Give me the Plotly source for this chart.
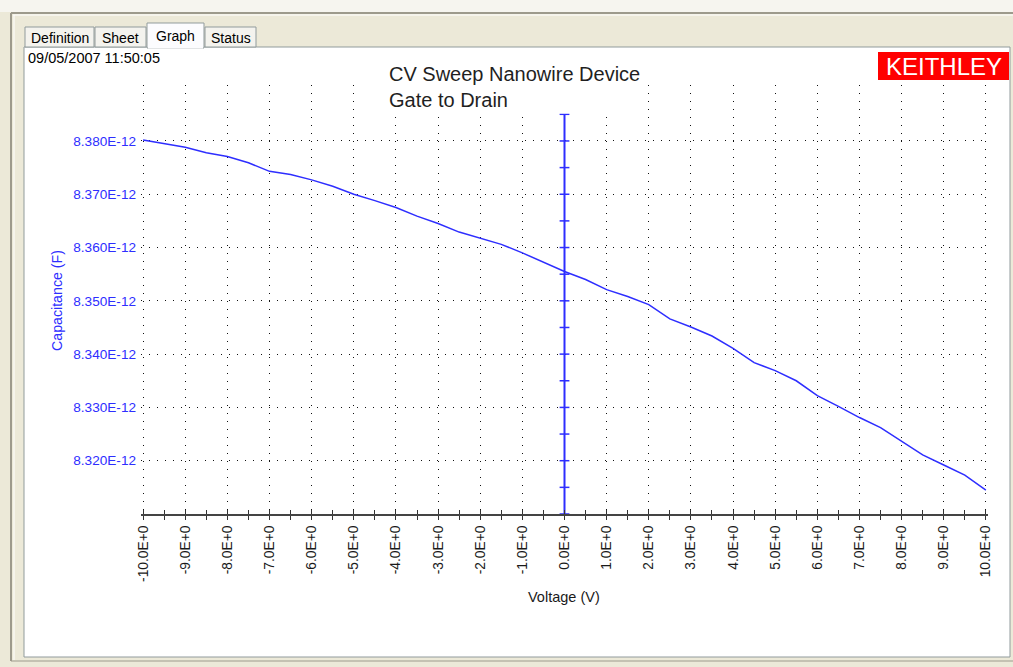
import plotly.graph_objects as go

# ---------------- data ----------------
voltage_V = [-10.0, -9.5, -9.0, -8.5, -8.0, -7.5, -7.0, -6.5, -6.0, -5.5, -5.0,
             -4.5, -4.0, -3.5, -3.0, -2.5, -2.0, -1.5, -1.0, -0.5, 0.0,
             0.5, 1.0, 1.5, 2.0, 2.5, 3.0, 3.5, 4.0, 4.5, 5.0,
             5.5, 6.0, 6.5, 7.0, 7.5, 8.0, 8.5, 9.0, 9.5, 10.0]
capacitance_pF = [8.3802, 8.3795, 8.3788, 8.3778, 8.3771, 8.3759, 8.3743, 8.3737, 8.3727, 8.3715, 8.3700,
                  8.3688, 8.3675, 8.3659, 8.3645, 8.3629, 8.3618, 8.3606, 8.3590, 8.3573, 8.3555,
                  8.3540, 8.3521, 8.3508, 8.3493, 8.3466, 8.3451, 8.3434, 8.3411, 8.3384, 8.3369,
                  8.3350, 8.3322, 8.3302, 8.3281, 8.3262, 8.3236, 8.3211, 8.3192, 8.3173, 8.3145]

x_tick_vals = [-10, -9, -8, -7, -6, -5, -4, -3, -2, -1, 0, 1, 2, 3, 4, 5, 6, 7, 8, 9, 10]
x_tick_text = ["-10.0E+0", "-9.0E+0", "-8.0E+0", "-7.0E+0", "-6.0E+0", "-5.0E+0", "-4.0E+0",
               "-3.0E+0", "-2.0E+0", "-1.0E+0", "0.0E+0", "1.0E+0", "2.0E+0", "3.0E+0",
               "4.0E+0", "5.0E+0", "6.0E+0", "7.0E+0", "8.0E+0", "9.0E+0", "10.0E+0"]
y_tick_vals_pF = [8.320, 8.330, 8.340, 8.350, 8.360, 8.370, 8.380]
y_tick_text = ["8.320E-12", "8.330E-12", "8.340E-12", "8.350E-12",
               "8.360E-12", "8.370E-12", "8.380E-12"]
zero_axis_ticks_pF = [8.310, 8.315, 8.320, 8.325, 8.330, 8.335, 8.340, 8.345,
                      8.350, 8.355, 8.360, 8.365, 8.370, 8.375, 8.380, 8.385]

title_text = "CV Sweep Nanowire Device<br>Gate to Drain"
timestamp = "09/05/2007 11:50:05"
tab_names = ["Definition", "Sheet", "Graph", "Status"]

pF = 1e-12
cap_F = [c * pF for c in capacitance_pF]
y_tick_vals = [v * pF for v in y_tick_vals_pF]
zero_axis_ticks = [v * pF for v in zero_axis_ticks_pF]

# ---------------- geometry helpers ----------------
W, H = 1013, 667
L, R, T, B = 141, 988, 85, 514


def px(xp):
    return (xp - L) / (R - L)


def py(yp):
    return (B - yp) / (B - T)


BLUE = "#2E2EFF"
X_PAD = 0.05  # small range padding so the edge grid lines at +/-10 are drawn

fig = go.Figure()

fig.add_trace(go.Scatter(
    x=voltage_V, y=cap_F, mode="lines",
    line=dict(color=BLUE, width=1.5), hoverinfo="skip"))

# vertical axis drawn through V = 0
fig.add_trace(go.Scatter(
    x=[0] * len(zero_axis_ticks), y=zero_axis_ticks, mode="lines+markers",
    line=dict(color=BLUE, width=2),
    marker=dict(symbol="line-ew", size=7, color=BLUE, line=dict(color=BLUE, width=1.5)),
    cliponaxis=False, hoverinfo="skip"))

# helper trace registering the overlay axis for the inner half of x ticks
fig.add_trace(go.Scatter(x=[], y=[], xaxis="x2", yaxis="y", hoverinfo="skip"))

grid_col = "#111111"
x_range = [x_tick_vals[0] - X_PAD, x_tick_vals[-1] + X_PAD]
fig.update_layout(
    width=W, height=H,
    margin=dict(l=L, r=W - R, t=T, b=H - B, autoexpand=False),
    paper_bgcolor="#ECE9D8",
    plot_bgcolor="white",
    showlegend=False,
    font=dict(family="Liberation Sans, Arial, sans-serif"),
    xaxis=dict(
        range=x_range, tickmode="array", tickvals=x_tick_vals, ticktext=x_tick_text,
        tickangle=-90, tickfont=dict(size=13.8, color="#1a1a1a"),
        ticks="outside", ticklen=4, tickwidth=1, tickcolor="#333",
        minor=dict(tickmode="linear", tick0=-10, dtick=0.5, ticks="outside",
                   ticklen=4, tickwidth=1, tickcolor="#333", showgrid=False),
        showline=True, linecolor="#444", linewidth=2,
        showgrid=True, gridcolor=grid_col, gridwidth=1, griddash="1px,7px",
        zeroline=False, automargin=False, fixedrange=True,
    ),
    xaxis2=dict(
        overlaying="x", anchor="y", side="bottom", range=x_range,
        tickmode="linear", tick0=-10, dtick=0.5, ticks="inside", ticklen=4,
        tickwidth=1, tickcolor="#333", showticklabels=False, showgrid=False,
        zeroline=False, showline=False, automargin=False, fixedrange=True,
    ),
    yaxis=dict(
        range=[8.310 * pF, 8.3905 * pF], tickmode="array", tickvals=y_tick_vals,
        ticktext=y_tick_text, tickfont=dict(size=13.6, color=BLUE),
        ticks="", showline=False, ticklabelstandoff=4,
        showgrid=True, gridcolor=grid_col, gridwidth=1, griddash="1px,7px",
        zeroline=False, automargin=False, fixedrange=True,
    ),
)

shapes = []


def rect(x0, y0, x1, y1, fill, line_col=None, lw=1, layer="below"):
    shapes.append(dict(type="rect", xref="paper", yref="paper",
                       x0=px(x0), x1=px(x1), y0=py(y0), y1=py(y1),
                       fillcolor=fill, layer=layer,
                       line=dict(color=line_col or fill, width=lw if line_col else 0)))


def hline(x0, x1, y, col, lw=1, layer="below"):
    shapes.append(dict(type="line", xref="paper", yref="paper",
                       x0=px(x0), x1=px(x1), y0=py(y), y1=py(y),
                       line=dict(color=col, width=lw), layer=layer))


def vline(x, y0, y1, col, lw=1, layer="below"):
    shapes.append(dict(type="line", xref="paper", yref="paper",
                       x0=px(x), x1=px(x), y0=py(y0), y1=py(y1),
                       line=dict(color=col, width=lw), layer=layer))


# window frame
rect(0, 0, W, 12, "#F6F5EF")
hline(11, W, 13, "#9D9A8C", 2)
vline(11, 13, 661, "#9D9A8C", 2)
hline(11, W, 661, "#9D9A8C", 1)
hline(13, W, 15, "#FFFFFF", 1)
vline(14, 15, 660, "#FFFFFF", 1)
# content area
rect(24, 47, 1010, 657, "#FFFFFF", "#919B9C", 1)

# tabs
tab_boxes = [(25, 27, 94, 47), (95, 27, 146, 47), (147, 23, 204, 48), (205, 27, 256, 47)]
for i, (x0, y0, x1, y1) in enumerate(tab_boxes):
    selected = tab_names[i] == "Graph"
    rect(x0, y0, x1, y1, "#FCFCFE" if selected else "#F4F3EE", "#919B9C", 1)
    if selected:
        hline(x0 + 1, x1 - 1, 47.5, "#FCFCFE", 2)

# keithley logo
rect(878, 52, 1009, 80, "#FF0000", layer="above")

fig.update_layout(shapes=shapes)

annotations = []
for i, (x0, y0, x1, y1) in enumerate(tab_boxes):
    annotations.append(dict(
        xref="paper", yref="paper", x=px((x0 + x1) / 2), y=py((y0 + y1) / 2 + 0.5),
        text=tab_names[i], showarrow=False, xanchor="center", yanchor="middle",
        font=dict(size=14, color="#000000")))

annotations += [
    dict(xref="paper", yref="paper", x=px(26), y=py(48), text=timestamp,
         showarrow=False, xanchor="left", yanchor="top",
         font=dict(size=14.5, color="#000000")),
    dict(xref="paper", yref="paper", x=px(386), y=py(60), text=title_text,
         showarrow=False, xanchor="left", yanchor="top", align="left",
         bgcolor="#FFFFFF", borderpad=2,
         font=dict(size=20, color="#1f1f1f")),
    dict(xref="paper", yref="paper", x=px(944), y=py(66.5), text="KEITHLEY",
         showarrow=False, xanchor="center", yanchor="middle",
         font=dict(size=24, color="#FFFFFF")),
    dict(xref="paper", yref="paper", x=px(57), y=py(301), text="Capacitance (F)",
         textangle=-90, showarrow=False, xanchor="center", yanchor="middle",
         font=dict(size=14.2, color=BLUE)),
    dict(xref="paper", yref="paper", x=px(564), y=py(597), text="Voltage (V)",
         showarrow=False, xanchor="center", yanchor="middle",
         font=dict(size=14.5, color="#1a1a1a")),
]
fig.update_layout(annotations=annotations)

fig.write_html(
    "out.html",
    config=dict(displayModeBar=False, staticPlot=True),
    post_script="document.body.style.margin='0';document.body.style.overflow='hidden';",
)
